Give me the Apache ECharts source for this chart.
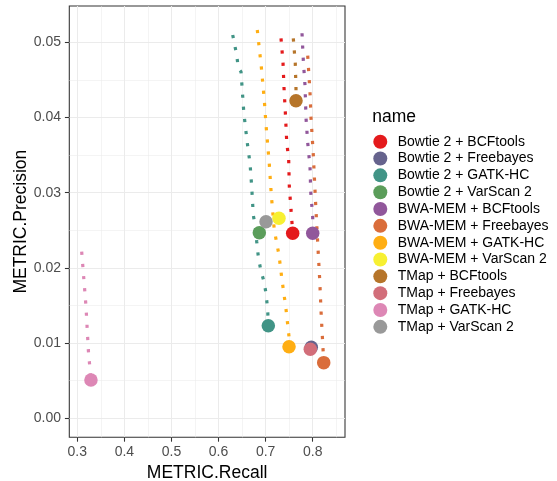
<!DOCTYPE html>
<html>
<head>
<meta charset="utf-8">
<script src="https://cdn.jsdelivr.net/npm/echarts@6/dist/echarts.min.js"></script>
<style>
  html, body {margin: 0; padding: 0; background: #fff;}
  #chart {width: 557px; height: 481px;}
</style>
</head>
<body>
<div id="chart"></div>
<script>
// combinations, in legend order
const names = [
  'Bowtie 2 + BCFtools', 'Bowtie 2 + Freebayes', 'Bowtie 2 + GATK-HC', 'Bowtie 2 + VarScan 2',
  'BWA-MEM + BCFtools', 'BWA-MEM + Freebayes', 'BWA-MEM + GATK-HC', 'BWA-MEM + VarScan 2',
  'TMap + BCFtools', 'TMap + Freebayes', 'TMap + GATK-HC', 'TMap + VarScan 2'
];

// [recall, precision] along each curve, last one is the final point
const bowtie2Bcftools = [[0.7327, 0.05053], [0.7369, 0.04734], [0.7390, 0.04402], [0.7418, 0.04077], [0.7448, 0.03678],
  [0.7490, 0.03435], [0.7503, 0.03089], [0.7539, 0.0277], [0.7560, 0.0260], [0.7575, 0.0246]];
const bowtie2Freebayes = [[0.797, 0.00944]];
const bowtie2Gatk = [[0.6301, 0.05097], [0.6386, 0.04831], [0.6420, 0.04654], [0.6477, 0.04609], [0.6534, 0.0409],
  [0.6568, 0.03887], [0.6632, 0.03555], [0.6668, 0.03399], [0.6704, 0.0308], [0.6738, 0.02703], [0.6775, 0.0257],
  [0.6811, 0.02348], [0.6845, 0.02149], [0.6896, 0.01972], [0.6966, 0.01816], [0.7008, 0.01662], [0.7044, 0.0144],
  [0.7057, 0.0123]];
const bowtie2VarScan = [[0.6866, 0.02468]];
const bwaBcftools = [[0.7773, 0.0512], [0.7800, 0.04765], [0.7837, 0.04423], [0.7858, 0.03993], [0.7894, 0.03665],
  [0.7943, 0.03346], [0.7958, 0.03013], [0.8000, 0.02681], [0.8000, 0.0246]];
const bwaFreebayes = [[0.7894, 0.04822], [0.7943, 0.0433], [0.7964, 0.03997], [0.8013, 0.03501], [0.8064, 0.02836],
  [0.8106, 0.02335], [0.8149, 0.01839], [0.8183, 0.01343], [0.8225, 0.00855], [0.8234, 0.0074]];
const bwaGatk = [[0.6823, 0.05164], [0.6908, 0.04676], [0.6972, 0.04233], [0.7008, 0.03904], [0.7078, 0.03382],
  [0.7121, 0.02969], [0.7184, 0.02504], [0.7284, 0.02171], [0.7348, 0.01839], [0.7427, 0.01484], [0.7497, 0.01085],
  [0.7497, 0.00952]];
const bwaVarScan = [[0.7284, 0.0266]];
const tmapBcftools = [[0.7588, 0.05053], [0.7630, 0.04721], [0.7645, 0.04388], [0.7645, 0.04223]];
const tmapFreebayes = [[0.7949, 0.00918]];
const tmapGatk = [[0.3093, 0.02215], [0.3185, 0.01484], [0.3234, 0.00908], [0.3290, 0.0051]];
const tmapVarScan = [[0.7008, 0.02614]];

const recallTicks = [0.3, 0.4, 0.5, 0.6, 0.7, 0.8];
const precisionTicks = [0, 0.01, 0.02, 0.03, 0.04, 0.05];

const curves = [bowtie2Bcftools, bowtie2Freebayes, bowtie2Gatk, bowtie2VarScan, bwaBcftools, bwaFreebayes,
  bwaGatk, bwaVarScan, tmapBcftools, tmapFreebayes, tmapGatk, tmapVarScan];

const palette = ['#E41A1C', '#66638D', '#419486', '#5B9D5A', '#91579B', '#DA6D3B',
  '#FFAE13', '#F7F032', '#B6752A', '#D26E7A', '#DD87B5', '#999999'];

const font = "'Liberation Sans', Arial, sans-serif";

const chart = echarts.init(document.getElementById('chart'), null, {renderer: 'canvas'});

const lines = curves.map((c, i) => ({
  name: names[i],
  type: 'line',
  data: c,
  showSymbol: false,
  silent: true,
  itemStyle: {color: palette[i]},
  lineStyle: {color: palette[i], width: 3.2, type: [3.2, 9], cap: 'butt'},
  emphasis: {disabled: true},
  z: 2
}));
const ends = curves.map((c, i) => ({
  name: names[i],
  type: 'scatter',
  data: [c[c.length - 1]],
  symbol: 'circle',
  symbolSize: 13.5,
  silent: true,
  itemStyle: {color: palette[i], opacity: 1},
  emphasis: {disabled: true},
  z: 3
}));

const axisCommon = {
  type: 'value',
  nameLocation: 'middle',
  nameTextStyle: {fontFamily: font, fontSize: 17.5, color: '#000'},
  axisLine: {show: false, onZero: false},
  axisTick: {show: true, inside: false, length: 4.4, lineStyle: {color: '#333333', width: 1.07}},
  splitLine: {show: true, lineStyle: {color: '#EBEBEB', width: 1.07}},
  minorTick: {show: false, splitNumber: 2},
  minorSplitLine: {show: true, lineStyle: {color: '#EBEBEB', width: 0.53}},
};

chart.setOption({
  animation: false,
  grid: {
    left: 69.3, right: 212, top: 6, bottom: 43.7,
    outerBoundsMode: 'none',
    containLabel: false,
    show: true, borderColor: '#333333', borderWidth: 1.07
  },
  xAxis: Object.assign({}, axisCommon, {
    name: 'METRIC.Recall',
    nameGap: 19,
    min: 0.283, max: 0.8686,
    axisTick: Object.assign({}, axisCommon.axisTick, {customValues: recallTicks}),
    axisLabel: {
      customValues: recallTicks, margin: 8, fontFamily: font, fontSize: 14, color: '#4D4D4D',
      formatter: v => v.toFixed(1)
    }
  }),
  yAxis: Object.assign({}, axisCommon, {
    name: 'METRIC.Precision',
    nameGap: 36,
    min: -0.00253, max: 0.05483,
    axisTick: Object.assign({}, axisCommon.axisTick, {customValues: precisionTicks}),
    axisLabel: {
      customValues: precisionTicks, margin: 8.3, fontFamily: font, fontSize: 14, color: '#4D4D4D',
      formatter: v => v.toFixed(2)
    }
  }),
  legend: {
    data: names,
    orient: 'vertical',
    left: 373.3,
    top: 134.7,
    icon: 'circle',
    itemWidth: 14,
    itemHeight: 14,
    itemGap: 2.83,
    selectedMode: false,
    padding: 0,
    textStyle: {fontFamily: font, fontSize: 14, lineHeight: 14, color: '#000', padding: [0, 0, 0, 5.4]}
  },
  graphic: [{
    type: 'text',
    left: 372.3,
    top: 108.5,
    style: {text: 'name', font: '17.5px ' + font, fill: '#000'}
  }],
  series: lines.concat(ends)
});
</script>
</body>
</html>
